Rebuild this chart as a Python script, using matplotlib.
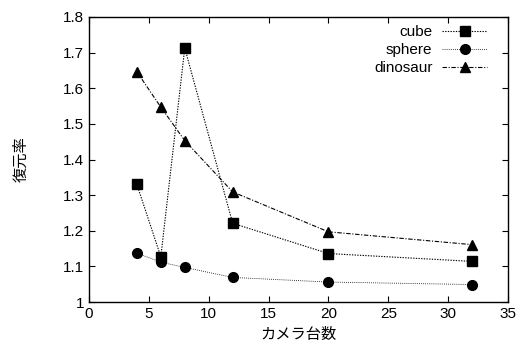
import matplotlib
matplotlib.use("Agg")
import matplotlib.pyplot as plt

plt.rcParams['font.family'] = ['Liberation Sans', 'Noto Sans CJK JP']

cameras = [4, 6, 8, 12, 20, 32]
cube = [1.33, 1.127, 1.713, 1.221, 1.136, 1.114]
sphere = [1.137, 1.112, 1.097, 1.069, 1.056, 1.049]
dinosaur = [1.646, 1.547, 1.453, 1.309, 1.197, 1.161]

fig = plt.figure(figsize=(5.25, 3.45), dpi=100)
ax = fig.add_axes([89 / 525, 43 / 345, 419 / 525, 285 / 345])

ax.plot(cameras, cube, color='black', lw=0.8, ls=(0, (1.2, 1.2)), marker='s', ms=7, label='cube')
ax.plot(cameras, sphere, color='black', lw=0.6, ls=(0, (1, 1.5)), marker='o', ms=7, label='sphere')
ax.plot(cameras, dinosaur, color='black', lw=0.8, ls=(0, (4, 1.5, 1, 1.5)), marker='^', ms=6.5, label='dinosaur')

ax.set_xlim(0, 35)
ax.set_ylim(1.0, 1.8)
ax.set_xticks(range(0, 36, 5))
ax.set_yticks([1.0, 1.1, 1.2, 1.3, 1.4, 1.5, 1.6, 1.7, 1.8])
ax.set_yticklabels(['1', '1.1', '1.2', '1.3', '1.4', '1.5', '1.6', '1.7', '1.8'])
ax.tick_params(direction='in', top=True, right=True, length=4, labelsize=11)
for s in ax.spines.values():
    s.set_linewidth(1.0)

ax.set_xlabel('カメラ台数', family=['Noto Sans CJK JP'], fontsize=11, labelpad=4)
ax.set_ylabel('復元率', family=['Noto Sans CJK JP'], fontsize=11, labelpad=24)

leg = ax.legend(loc='upper right', bbox_to_anchor=(0.971, 1.0), frameon=False,
                markerfirst=False, fontsize=11, handlelength=3, handletextpad=0.6,
                labelspacing=0.25, borderaxespad=0.15)

fig.savefig('out.png', dpi=100)
